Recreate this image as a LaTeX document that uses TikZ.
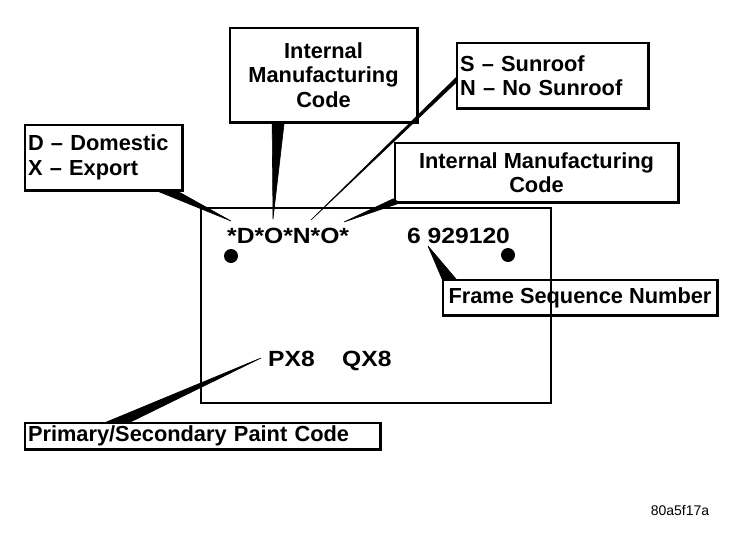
\documentclass[tikz,border=0pt]{standalone}
\usepackage{fontspec}
\setmainfont{Liberation Sans}
\newfontfamily\platefont{Liberation Sans}[FakeStretch=1.12]
\begin{document}
\begin{tikzpicture}[x=1pt,y=-1pt,
  lbl/.style={draw, line width=1.7pt, inner sep=0pt, font=\fontsize{21.8}{24.5}\selectfont\bfseries},
  wedge/.style={fill=black, draw=black, line width=0.6pt, line join=round},
  platetxt/.style={font=\platefont\fontsize{22}{26}\selectfont\bfseries, inner sep=0pt, anchor=base west},
  shadowline/.style={line width=3pt}]
\useasboundingbox (0,0) rectangle (752,538);
\fill[white] (0,0) rectangle (752,538);

% plate
\node[draw, line width=1.7pt, minimum width=350pt, minimum height=195pt, inner sep=0pt] (plate) at (376,305.5) {};
\fill (231,256) circle (7pt);
\fill (508,255) circle (7pt);

% labels
\node[lbl, text width=151pt, inner xsep=3pt, align=left, minimum height=65pt] (dom) at (103.5,157.5) {D -- Domestic\\X -- Export};
\node[lbl, minimum width=187pt, minimum height=94pt, align=center] (imc1) at (323.5,75) {Internal\\Manufacturing\\Code};
\node[lbl, text width=185pt, inner xsep=3pt, align=left, minimum height=65pt] (sun) at (552.5,75.5) {S -- Sunroof\\N -- No Sunroof};
\node[lbl, minimum width=283pt, minimum height=59pt, align=center] (imc2) at (536.5,172.5) {Internal Manufacturing\\Code};
\node[lbl, minimum width=274pt, minimum height=35pt] (fsn) at (580,297.5) {Frame Sequence Number};
\node[lbl, text width=349pt, inner xsep=3pt, align=left, minimum height=26pt] (pcode) at (202.5,436) {Primary/Secondary Paint Code};
\foreach \n in {dom,imc1,sun,imc2,fsn,pcode}
  \draw[shadowline] (\n.south west) -- (\n.south east) -- (\n.north east);

% plate texts
\node[platetxt] (code) at (227,243) {*D*O*N*O*};
\node[platetxt] (serial) at (407,243) {6 929120};
\node[platetxt] (px) at (268,366) {PX8};
\node[platetxt] (qx) at (342,366) {QX8};

% leader tips
\coordinate (tD) at (231,221);
\coordinate (tO1) at (273,219);
\coordinate (tN) at (311,220);
\coordinate (tO2) at (344,222);
\coordinate (t9) at (428,246);
\coordinate (tP) at (261,358);

% leaders
\draw[wedge] ([xshift=-26pt]dom.south east) -- ([xshift=-6pt]dom.south east) -- (tD) -- cycle;
\draw[wedge] ([xshift=43pt]imc1.south west) -- ([xshift=55pt]imc1.south west) -- (tO1) -- cycle;
\draw[wedge] ([yshift=-2pt]sun.west) -- ([yshift=-7pt]sun.west) -- (tN) -- cycle;
\draw[wedge] ([xshift=-1pt,yshift=4pt]imc2.south west) -- ([xshift=6pt]imc2.south west) -- (tO2) -- cycle;
\draw[wedge] (fsn.north west) -- ([xshift=14pt]fsn.north west) -- (t9) -- cycle;
\draw[wedge] ([xshift=82pt]pcode.north west) -- ([xshift=106pt]pcode.north west) -- (tP) -- cycle;

\node[font=\fontsize{14}{16}\selectfont, inner sep=0pt] (ref) at (680,510) {80a5f17a};
\end{tikzpicture}
\end{document}
